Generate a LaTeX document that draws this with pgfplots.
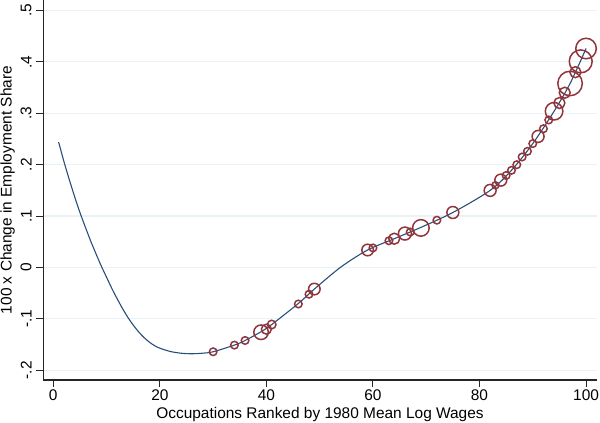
\documentclass[border=0pt]{standalone}
\usepackage{fontspec}
\setmainfont{Liberation Sans}
\usepackage{pgfplots}
\usepackage{pgfplotstable}
\pgfplotsset{compat=1.18}
\definecolor{curveblue}{RGB}{42,78,122}
\definecolor{maroon}{RGB}{144,53,59}
\definecolor{gridc}{RGB}{234,242,243}

\pgfplotstableread{
x y
1 0.244
2 0.206
3 0.171
4 0.138
5 0.107
6 0.079
7 0.052
8 0.027
9 0.003
10 -0.019
11 -0.041
12 -0.061
13 -0.080
14 -0.097
15 -0.112
16 -0.125
17 -0.136
18 -0.145
19 -0.152
20 -0.157
22 -0.1635
24 -0.1668
26 -0.1678
28 -0.1668
30 -0.164
34 -0.151
36 -0.142
39 -0.125
41 -0.111
46 -0.070
49 -0.042
54 0.001
59 0.034
64 0.056
69 0.078
75 0.107
82 0.150
86 0.189
90 0.241
94 0.304
97 0.358
100 0.426
}\fitcurve

\pgfplotstableread{
x y r
30 -0.164 3.8
34 -0.151 3.8
36 -0.142 3.8
39 -0.126 7.3
40 -0.120 5.0
41 -0.111 4.3
46 -0.071 3.8
48 -0.052 3.8
49 -0.042 5.8
59 0.034 5.8
60 0.038 3.8
63 0.052 3.8
64 0.056 5.5
66 0.066 6.5
67 0.069 3.8
69 0.077 8.3
72 0.092 3.8
75 0.107 6.0
82 0.150 6.0
83 0.160 3.5
84 0.170 6.0
85 0.179 3.8
86 0.189 3.8
87 0.200 3.8
88 0.215 3.8
89 0.226 3.8
90 0.241 3.8
91 0.255 6.0
92 0.270 3.8
93 0.287 3.8
94 0.304 8.8
95 0.320 5.5
96 0.340 5.5
97 0.358 12.3
98 0.380 5.5
99 0.401 11.5
100 0.426 10.3
}\occs

\begin{document}
\begin{tikzpicture}
\begin{axis}[
  at={(0,0)}, anchor=south west,
  scale only axis,
  width=553.4bp, height=380bp,
  xmin=-1.875, xmax=102,
  ymin=-0.2189, ymax=0.5204,
  axis x line*=bottom, axis y line*=left,
  axis line style={black!85, line width=1.1bp},
  tick align=outside,
  major tick length=7bp,
  tick style={black!85, line width=1bp},
  xtick={0,20,40,60,80,100},
  xticklabels={0,20,40,60,80,100},
  ytick={-0.2,-0.1,0,0.1,0.2,0.3,0.4,0.5},
  yticklabels={-.2,-.1,0,.1,.2,.3,.4,.5},
  ymajorgrids,
  grid style={gridc, line width=1.2bp},
  tick label style={font=\fontsize{15.5}{18}\selectfont},
  label style={font=\fontsize{15.5}{18}\selectfont},
  xticklabel style={anchor=north, inner sep=0pt, yshift=-3bp},
  yticklabel shift=4.5bp,
  yticklabel style={rotate=90, anchor=south, inner sep=0pt},
  xlabel={Occupations Ranked by 1980 Mean Log Wages},
  ylabel={100 x Change in Employment Share},
  xlabel style={at={(axis description cs:0.5,0)}, anchor=north, inner sep=0pt, yshift=-27bp},
  ylabel style={at={(axis description cs:-0.0776,0.5)}, anchor=north, inner sep=0pt},
  clip=false,
]
\addplot[scatter, only marks, mark=o,
  scatter/use mapped color={draw=maroon, fill=none},
  mark options={line width=1.5bp},
  visualization depends on={\thisrow{r} \as \rad},
  scatter/@pre marker code/.append style={/tikz/mark size=\rad}]
  table[x=x, y=y] {\occs};
\addplot[curveblue, line width=1.1bp, smooth, tension=0.5, no marks] table[x=x, y=y] {\fitcurve};
\end{axis}
\pgfresetboundingbox
\path[use as bounding box] (-43.3bp,-43bp) rectangle (556.7bp,380bp);
\end{tikzpicture}
\end{document}
